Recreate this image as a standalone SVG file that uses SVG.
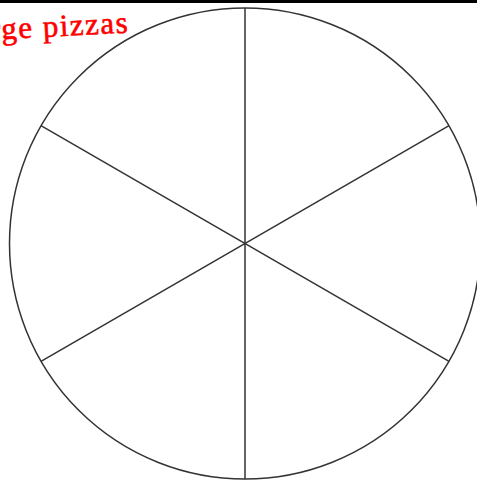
<svg xmlns="http://www.w3.org/2000/svg" width="477" height="480" viewBox="0 0 477 480">
<style>
.ln{stroke:#333;stroke-width:1.5;fill:none}
.lbl{font-family:"Liberation Serif","Times New Roman",serif;font-size:31px;fill:#ff0000;stroke:#ff0000;stroke-width:0.6}
</style>
<rect x="0" y="0" width="477" height="480" fill="#fff"/>
<rect x="0" y="0" width="477" height="3" fill="#000"/>
<g id="pizza">
<circle class="ln" cx="245" cy="243.5" r="235.5"/>
</g>
<g id="connectors">
<line class="ln" x1="245" y1="8" x2="245" y2="479"/>
<line class="ln" x1="41" y1="125.7" x2="449" y2="361.3"/>
<line class="ln" x1="41" y1="361.3" x2="449" y2="125.7"/>
</g>
<g id="title">
<text class="lbl" x="129.5" y="32.5" text-anchor="end" letter-spacing="1.5" transform="rotate(-3 129.5 32.5)">Large pizzas</text>
</g>
</svg>
